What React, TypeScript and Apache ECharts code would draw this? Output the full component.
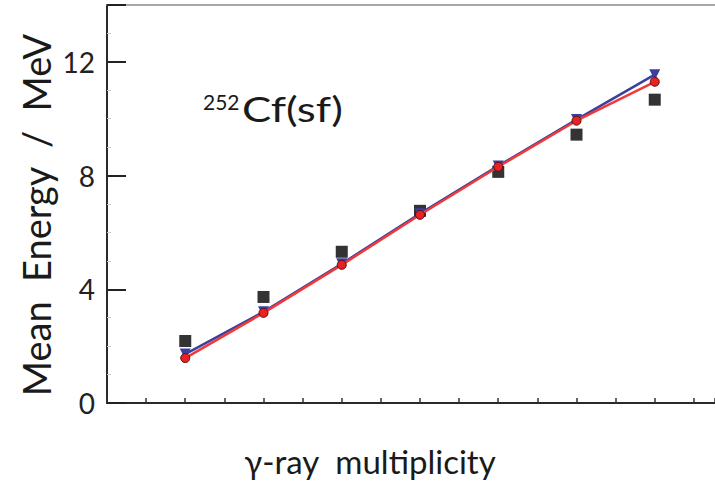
import React, { useEffect, useRef } from "react";
import * as echarts from "echarts";

const multiplicity = [1, 2, 3, 4, 5, 6, 7];
const experiment = [2.18, 3.73, 5.32, 6.76, 8.13, 9.44, 10.67];
const modelBlue = [1.72, 3.21, 4.9, 6.66, 8.34, 9.97, 11.55];
const modelRed = [1.58, 3.17, 4.86, 6.62, 8.31, 9.93, 11.3];
const yTickLabels = ["0", "4", "8", "12"];

const FONT = "Lato, 'Open Sans', sans-serif";

export default function App() {
  const ref = useRef<HTMLDivElement>(null);
  useEffect(() => {
    document.body.style.margin = "0";
    const chart = echarts.init(ref.current!, undefined, { renderer: "svg" });
    const pts = (ys: number[]) => multiplicity.map((x, i) => [x, ys[i]]);
    chart.setOption({
      animation: false,
      backgroundColor: "#ffffff",
      grid: { left: 107, right: 0, top: 5, bottom: 80 },
      xAxis: [
        {
          type: "value",
          min: 0,
          max: 7.77,
          interval: 0.5,
          axisLine: { show: true, lineStyle: { color: "#2a2a2a", width: 2 } },
          axisTick: { show: true, inside: true, length: 5, lineStyle: { color: "#333", width: 1.5 } },
          axisLabel: { show: false },
          splitLine: { show: false },
        },
        {
          type: "value",
          position: "top",
          min: 0,
          max: 7.77,
          axisLine: { show: true, onZero: false, lineStyle: { color: "#8a8a8a", width: 1.5 } },
          axisTick: { show: false },
          axisLabel: { show: false },
          splitLine: { show: false },
        },
      ],
      yAxis: {
        type: "value",
        min: 0,
        max: 14,
        interval: 4,
        axisLine: { show: true, lineStyle: { color: "#2a2a2a", width: 2 } },
        axisTick: { show: true, inside: true, length: 19, lineStyle: { color: "#222", width: 2 } },
        minorTick: { show: true, splitNumber: 4, length: 4, lineStyle: { color: "#cccccc", width: 1 } },
        axisLabel: {
          margin: 12,
          fontFamily: FONT,
          fontSize: 28,
          color: "#222",
          showMaxLabel: false,
          formatter: (v: number) => (yTickLabels.includes(String(v)) ? String(v) : ""),
        },
        splitLine: { show: false },
      },
      series: [
        {
          type: "scatter",
          data: pts(experiment),
          symbol: "rect",
          symbolSize: 12,
          itemStyle: { color: "#000000" },
          z: 2,
        },
        {
          type: "line",
          data: pts(modelBlue),
          symbol: "triangle",
          symbolRotate: 180,
          symbolSize: 11,
          lineStyle: { color: "#3b3f9e", width: 2.5 },
          itemStyle: { color: "#3b3f9e" },
          z: 3,
        },
        {
          type: "line",
          data: pts(modelRed),
          symbol: "circle",
          symbolSize: 9,
          showAllSymbol: true,
          lineStyle: { color: "#f03a3a", width: 2.5 },
          itemStyle: { color: "#e82222", borderColor: "#5a1010", borderWidth: 1 },
          z: 4,
        },
      ],
      graphic: [
        {
          type: "text",
          x: 36,
          y: 215,
          rotation: Math.PI / 2,
          style: {
            text: "Mean  Energy  /  MeV",
            fontFamily: FONT,
            fontSize: 38,
            fill: "#1a1a1a",
            align: "center",
            verticalAlign: "middle",
          },
        },
        {
          type: "text",
          x: 203,
          y: 91,
          style: { text: "252", fontFamily: FONT, fontSize: 21, fill: "#1a1a1a", verticalAlign: "top" },
        },
        {
          type: "text",
          x: 242,
          y: 91,
          scaleX: 1.25,
          style: { text: "Cf(sf)", fontFamily: FONT, fontSize: 35, fill: "#1a1a1a", verticalAlign: "top" },
        },
        {
          type: "text",
          x: 370,
          y: 461,
          style: {
            text: "γ-ray  multiplicity",
            fontFamily: FONT,
            fontSize: 33,
            fill: "#1a1a1a",
            align: "center",
            verticalAlign: "middle",
          },
        },
      ],
    });
    return () => chart.dispose();
  }, []);
  return <div ref={ref} style={{ width: 715, height: 483 }} />;
}
